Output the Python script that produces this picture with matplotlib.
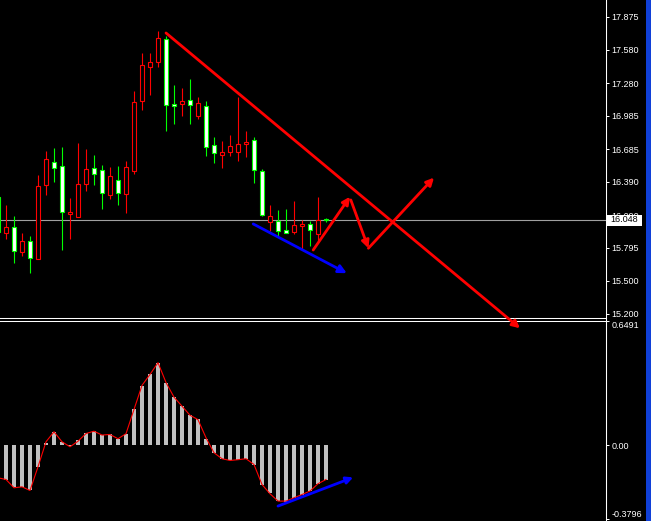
import numpy as np
import matplotlib.pyplot as plt
from matplotlib.patches import Rectangle
from matplotlib.lines import Line2D

# candles, bar index -1 is the one cut by the left edge
bars = np.arange(-1, 41)
opens = [16.254, 15.927, 15.981, 15.756, 15.855, 15.693, 16.359, 16.569, 16.533, 16.098,
         16.076, 16.368, 16.512, 16.494, 16.269, 16.404, 16.278, 16.491, 17.121, 17.427,
         17.467, 17.674, 17.089, 17.089, 17.125, 16.986, 17.071, 16.719, 16.629, 16.656,
         16.662, 16.728, 16.764, 16.485, 16.026, 16.035, 15.957, 15.936, 15.990, 16.008,
         15.918, 16.056]
highs = [16.300, 16.182, 16.083, 15.930, 15.902, 16.452, 16.668, 16.695, 16.704, 16.245,
         16.743, 16.686, 16.632, 16.542, 16.521, 16.533, 16.575, 17.208, 17.551, 17.551,
         17.749, 17.704, 17.263, 17.236, 17.317, 17.155, 17.118, 16.794, 16.758, 16.812,
         17.155, 16.848, 16.797, 16.503, 16.182, 16.137, 16.146, 16.218, 16.047, 16.038,
         16.254, 16.065]
lows = [15.900, 15.875, 15.662, 15.725, 15.572, 15.695, 16.272, 16.392, 15.776, 15.875,
        16.076, 16.308, 16.359, 16.146, 16.236, 16.182, 16.112, 16.461, 17.037, 17.173,
        17.425, 16.848, 16.911, 16.983, 16.911, 16.956, 16.623, 16.560, 16.515, 16.623,
        16.578, 16.617, 16.383, 16.085, 15.948, 15.902, 15.927, 15.918, 15.776, 15.812,
        15.855, 16.031]
closes = [15.939, 15.981, 15.765, 15.857, 15.702, 16.353, 16.593, 16.512, 16.116, 16.119,
          16.371, 16.503, 16.458, 16.287, 16.440, 16.287, 16.527, 17.107, 17.440, 17.467,
          17.683, 17.080, 17.071, 17.116, 17.080, 17.098, 16.707, 16.647, 16.656, 16.710,
          16.728, 16.752, 16.494, 16.089, 16.080, 15.945, 15.927, 15.999, 16.010, 15.954,
          16.047, 16.048]
bid = 16.048
price_ticks = [17.875, 17.580, 17.280, 16.985, 16.685, 16.390, 16.090, 15.795, 15.500, 15.200]

# MACD histogram (bars 0..40) and signal line (bars -1..40)
hist_bars = np.arange(0, 41)
hist = [-0.177, -0.217, -0.217, -0.229, -0.111, 0.014, 0.068, 0.019, -0.003, 0.026,
        0.066, 0.074, 0.054, 0.059, 0.035, 0.061, 0.187, 0.308, 0.372, 0.430,
        0.327, 0.251, 0.204, 0.159, 0.135, 0.036, -0.038, -0.068, -0.078, -0.074,
        -0.069, -0.099, -0.203, -0.246, -0.289, -0.292, -0.275, -0.258, -0.237, -0.199,
        -0.177]
sig_bars = np.arange(-1, 41)
signal = [-0.168, -0.177, -0.220, -0.215, -0.234, -0.111, 0.019, 0.071, 0.019, -0.007,
          0.022, 0.062, 0.074, 0.054, 0.057, 0.035, 0.061, 0.187, 0.312, 0.369,
          0.430, 0.327, 0.251, 0.204, 0.157, 0.134, 0.040, -0.038, -0.069, -0.078,
          -0.074, -0.069, -0.099, -0.203, -0.251, -0.289, -0.289, -0.272, -0.255, -0.237,
          -0.199, -0.177]
sub_max, sub_min = 0.6491, -0.3796

# hand drawn arrows: (bar, price) start -> end
red_arrows = [((20.0, 17.731), (64.25, 15.071)),
              ((38.4, 15.776), (43.0, 16.256)),
              ((43.1, 16.227), (45.3, 15.792)),
              ((45.3, 15.792), (53.5, 16.428))]
blue_arrow = ((30.9, 16.011), (42.6, 15.567))
blue_arrow_sub = ((34.0, -0.315), (43.4, -0.166))

W, H = 651, 521
fig = plt.figure(figsize=(W / 100, H / 100), dpi=100, facecolor='black')
axw = 606 / W
ax = fig.add_axes([0, 1 - 317.5 / H, axw, 317.5 / H], facecolor='black')
sub = fig.add_axes([0, 0, axw, 1 - 320.5 / H], facecolor='black')
ax.set_zorder(3)

font = 'Liberation Sans'
for a in (ax, sub):
    a.set_xlim(-0.75, 75)
    a.set_xticks([])
    a.yaxis.tick_right()
    a.tick_params(axis='y', direction='out', length=2.5, width=0.72, color='white',
                  labelcolor='white', labelsize=6.5, pad=1.5)
    a.spines['left'].set_visible(False)
    a.spines['right'].set_color('white')
    a.spines['right'].set_linewidth(0.75)

ax.spines['top'].set_visible(False)
ax.spines['bottom'].set_color('white')
ax.spines['bottom'].set_linewidth(0.75)
sub.spines['bottom'].set_visible(False)
sub.spines['top'].set_color('white')
sub.spines['top'].set_linewidth(0.75)

# price panel
ax.set_ylim(15.168, 18.028)
ax.set_yticks(price_ticks)
ax.set_yticklabels(['%.3f' % t for t in price_ticks], family=font)
ax.axhline(bid, color='#a0a0a0', lw=0.8, zorder=1)

o = np.array(opens); c = np.array(closes)
up = c >= o
col = np.where(up, '#ff0000', '#00ff00')
ax.vlines(bars, lows, highs, colors=col, lw=0.8, zorder=2)
ax.bar(bars, np.maximum(np.abs(c - o), 0.004), bottom=np.minimum(o, c), width=0.58,
       color=np.where(up, 'black', 'white'), edgecolor=col, linewidth=0.8, zorder=3)

for (x0, y0), (x1, y1) in red_arrows:
    ax.annotate('', xy=(x1, y1), xytext=(x0, y0), annotation_clip=False,
                arrowprops=dict(arrowstyle='-|>', color='#ff0000', lw=2,
                                mutation_scale=11, shrinkA=0, shrinkB=0), zorder=5)
(x0, y0), (x1, y1) = blue_arrow
ax.annotate('', xy=(x1, y1), xytext=(x0, y0),
            arrowprops=dict(arrowstyle='-|>', color='#0000ff', lw=2,
                            mutation_scale=12, shrinkA=0, shrinkB=0), zorder=5)

# bid label box on the price scale, over the 16.090 label as in the terminal
by = 1 - 220 / H
fig.patches.append(Rectangle((606.5 / W, 1 - 225.5 / H), 35.5 / W, 10.5 / H,
                             transform=fig.transFigure, facecolor='white',
                             edgecolor='none', zorder=10))
fig.text(610.5 / W, by, '%.3f' % bid, color='black', fontsize=6.5, family=font,
         va='center', ha='left', zorder=11)

# MACD panel
sub.set_ylim(sub_max - 200.5 * 0.005195, sub_max)
sub.bar(hist_bars, hist, width=0.4, color='#c0c0c0', zorder=2)
sub.plot(sig_bars, signal, color='#ff0000', lw=0.8, zorder=3)
sub.set_yticks([sub_max, 0.0, sub_min])
sub.set_yticklabels(['%.4f' % sub_max, '0.00', '%.4f' % sub_min], family=font)
labs = sub.get_yticklabels()
labs[0].set_va('top')
labs[2].set_va('bottom')
(x0, y0), (x1, y1) = blue_arrow_sub
sub.annotate('', xy=(x1, y1), xytext=(x0, y0),
             arrowprops=dict(arrowstyle='-|>', color='#0000ff', lw=2,
                             mutation_scale=10, shrinkA=0, shrinkB=0), zorder=5)

# scale line and window edge
fig.lines.append(Line2D([axw, axw], [0, 1], transform=fig.transFigure,
                        color='white', lw=0.75))
fig.patches.append(Rectangle((646 / W, 0), 5 / W, 1, transform=fig.transFigure,
                             facecolor='#1040d8', edgecolor='none'))

fig.savefig('out.png', dpi=100, facecolor='black')
